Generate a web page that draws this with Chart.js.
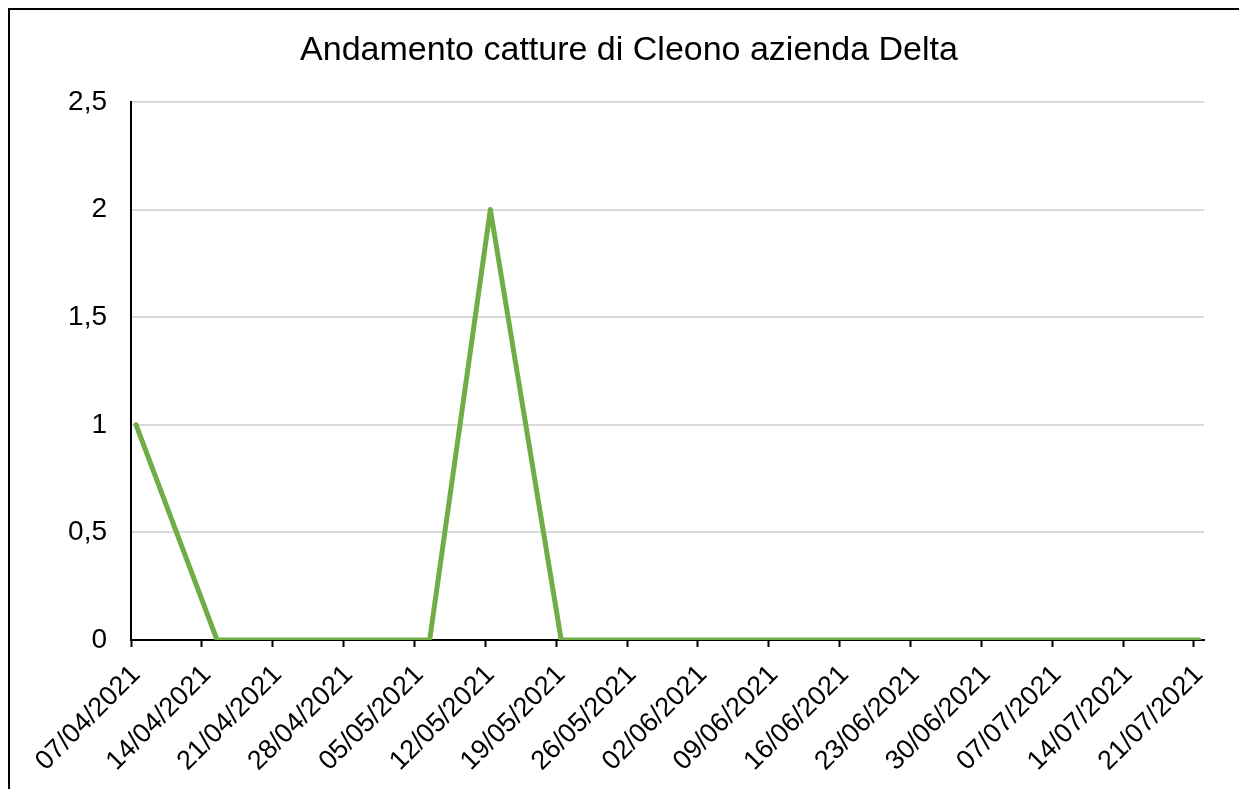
<!DOCTYPE html>
<html>
<head>
<meta charset="utf-8">
<script src="https://cdn.jsdelivr.net/npm/chart.js@4/dist/chart.umd.min.js"></script>
<style>
  html, body { margin: 0; padding: 0; background: #fff; }
  #wrap { width: 1239px; height: 789px; }
</style>
</head>
<body>
<div id="wrap"><canvas id="chart"></canvas></div>
<script>
// Weekly trap counts
const sampleDates = ['07/04/2021', '15/04/2021', '22/04/2021', '29/04/2021', '06/05/2021',
  '12/05/2021', '19/05/2021', '26/05/2021', '02/06/2021', '09/06/2021', '16/06/2021',
  '23/06/2021', '30/06/2021', '07/07/2021', '14/07/2021', '21/07/2021'];
const captures = [1, 0, 0, 0, 0, 2, 0, 0, 0, 0, 0, 0, 0, 0, 0, 0];

// Axis labels: one every 7 days
const tickDates = ['07/04/2021', '14/04/2021', '21/04/2021', '28/04/2021', '05/05/2021',
  '12/05/2021', '19/05/2021', '26/05/2021', '02/06/2021', '09/06/2021', '16/06/2021',
  '23/06/2021', '30/06/2021', '07/07/2021', '14/07/2021', '21/07/2021'];
const yTicks = [0, 0.5, 1, 1.5, 2, 2.5];

const chartTitle = 'Andamento catture di Cleono azienda Delta';

const DAY = 86400000;
const parseDate = s => {
  const [d, m, y] = s.split('/').map(Number);
  return Date.UTC(y, m - 1, d);
};
const origin = parseDate(tickDates[0]);
const dayIndex = s => Math.round((parseDate(s) - origin) / DAY);
const tickByDay = {};
tickDates.forEach(s => { tickByDay[dayIndex(s)] = s; });

// points sit in the middle of their day on the date axis
const points = sampleDates.map((s, i) => ({ x: dayIndex(s) + 0.5, y: captures[i] }));

const FONT = "'Liberation Sans', Arial, sans-serif";

// white background, outer frame and the title
const frame = {
  id: 'frame',
  beforeDraw(chart) {
    const ctx = chart.ctx;
    ctx.save();
    ctx.fillStyle = '#fff';
    ctx.fillRect(0, 0, chart.width, chart.height);
    ctx.strokeStyle = '#000';
    ctx.lineWidth = 2;
    ctx.strokeRect(9, 9, chart.width + 20, chart.height + 20);
    ctx.fillStyle = '#000';
    ctx.font = '34px ' + FONT;
    ctx.textAlign = 'center';
    ctx.textBaseline = 'alphabetic';
    ctx.fillText(chartTitle, 629, 60);
    ctx.restore();
  }
};

new Chart(document.getElementById('chart'), {
  type: 'line',
  data: {
    datasets: [{
      label: 'Catture',
      data: points,
      borderColor: '#70ad47',
      borderWidth: 5,
      pointRadius: 0,
      tension: 0,
      borderJoinStyle: 'round',
      borderCapStyle: 'round'
    }]
  },
  options: {
    responsive: true,
    maintainAspectRatio: false,
    animation: false,
    layout: { padding: { left: 0, top: 102, right: 35, bottom: 0 } },
    plugins: {
      legend: { display: false },
      tooltip: { enabled: false },
      title: { display: false }
    },
    scales: {
      x: {
        type: 'linear',
        min: 0,
        max: dayIndex(tickDates[tickDates.length - 1]) + 1,
        afterBuildTicks: scale => {
          scale.ticks = tickDates.map(s => ({ value: dayIndex(s) }));
        },
        afterFit: scale => { scale.height = 149; },
        grid: {
          drawOnChartArea: false,
          drawTicks: true,
          tickLength: 7,
          tickColor: '#000',
          tickWidth: 2
        },
        border: { color: '#000', width: 2 },
        ticks: {
          color: '#000',
          font: { family: FONT, size: 27 },
          minRotation: 45,
          maxRotation: 45,
          autoSkip: false,
          padding: 12,
          labelOffset: 5,
          callback: v => tickByDay[v] || ''
        }
      },
      y: {
        min: 0,
        max: 2.5,
        afterBuildTicks: scale => {
          scale.ticks = yTicks.map(v => ({ value: v }));
        },
        afterFit: scale => { scale.width = 131; },
        grid: { color: '#d9d9d9', lineWidth: 2, drawTicks: false },
        border: { color: '#000', width: 2 },
        ticks: {
          color: '#000',
          font: { family: FONT, size: 28 },
          padding: 24,
          callback: v => String(v).replace('.', ',')
        }
      }
    }
  },
  plugins: [frame]
});
</script>
</body>
</html>
